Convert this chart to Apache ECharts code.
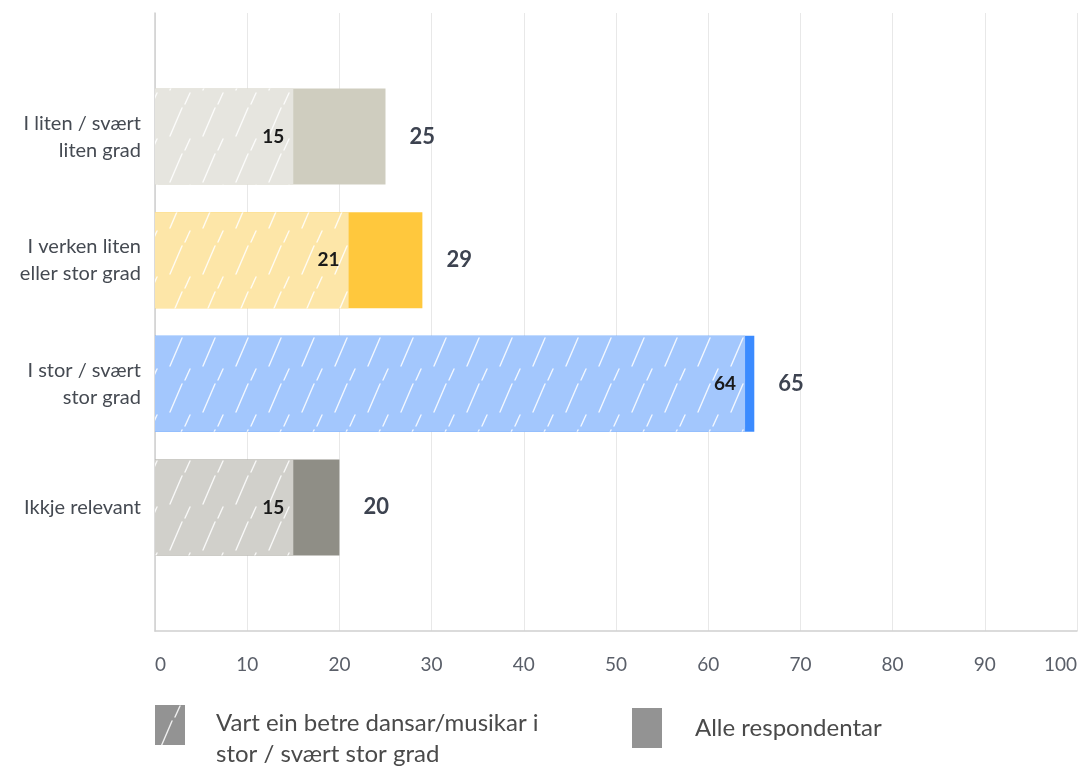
<!DOCTYPE html>
<html>
<head>
<meta charset="utf-8">
<script src="https://cdn.jsdelivr.net/npm/echarts@6/dist/echarts.min.js"></script>
<style>
  html, body { margin: 0; padding: 0; background: #fff; }
  #chart { width: 1078px; height: 767px; }
</style>
</head>
<body>
<div id="chart"></div>
<script>
// kategoriar (tom start/slutt for luft over og under)
const categories = ['', 'I liten / svært\nliten grad', 'I verken liten\neller stor grad', 'I stor / svært\nstor grad', 'Ikkje relevant', ''];
const betreVerdiar = [null, 15, 21, 64, 15, null];
const alleVerdiar = [null, 25, 29, 65, 20, null];
const seriesNames = ['Vart ein betre dansar/musikar i stor / svært stor grad', 'Alle respondentar'];

// fargar per rad: [lys (skravert), mørk]
const rowColors = [
    null,
    ['#e6e5df', '#cfcdbf'],
    ['#fde6a8', '#ffc83d'],
    ['#a3c7fd', '#3b8bff'],
    ['#d1d0cb', '#8f8e86'],
    null
];

// skravert mønster med kvite strekar
function hatch(bg) {
    const c = document.createElement('canvas');
    c.width = 33;
    c.height = 46;
    const ctx = c.getContext('2d');
    ctx.fillStyle = bg;
    ctx.fillRect(0, 0, c.width, c.height);
    ctx.strokeStyle = 'rgba(255,255,255,0.85)';
    ctx.lineWidth = 1.4;
    ctx.lineCap = 'round';
    ctx.beginPath();
    ctx.moveTo(5, 44);
    ctx.lineTo(17, 16);
    ctx.moveTo(20, 12);
    ctx.lineTo(25, 1);
    ctx.stroke();
    return { image: c, repeat: 'repeat' };
}

const chart = echarts.init(document.getElementById('chart'));

const option = {
    textStyle: { fontFamily: 'Lato' },
    grid: { left: 155, right: 1, top: 13, bottom: 136, outerBoundsMode: 'none' },
    xAxis: {
        type: 'value',
        min: 0,
        max: 100,
        interval: 10,
        axisLine: { show: true, lineStyle: { color: '#cfcfcf', width: 1.5 } },
        axisTick: { show: false },
        axisLabel: { color: '#5a5f69', fontSize: 19, margin: 24, fontFamily: 'Lato', alignMinLabel: 'left', alignMaxLabel: 'right' },
        splitLine: { show: true, lineStyle: { color: '#e8e8e8' } }
    },
    yAxis: {
        type: 'category',
        data: categories,
        inverse: true,
        boundaryGap: false,
        axisLine: { show: true, lineStyle: { color: '#cfcfcf', width: 1.5 } },
        axisTick: { show: false },
        splitLine: { show: false },
        axisLabel: { color: '#454a52', fontSize: 20, lineHeight: 27, margin: 14, align: 'right', fontFamily: 'Lato' }
    },
    legend: [
        {
            left: 155,
            top: 689,
            padding: 0,
            itemWidth: 30,
            itemHeight: 40,
            selectedMode: false,
            formatter: () => '{s| }\n{a|Vart ein betre dansar/musikar i}\n{a|stor / svært stor grad}',
            textStyle: {
                color: '#4a4a4a',
                fontFamily: 'Lato',
                padding: [0, 0, 0, 26],
                rich: {
                    s: { fontSize: 10, lineHeight: 28 },
                    a: { fontSize: 24, lineHeight: 31, color: '#4a4a4a', fontFamily: 'Lato' }
                }
            },
            data: [{ name: seriesNames[0], icon: 'rect', itemStyle: { color: hatch('#939393') } }]
        },
        {
            left: 632,
            top: 708,
            padding: 0,
            itemWidth: 30,
            itemHeight: 40,
            selectedMode: false,
            textStyle: { color: '#4a4a4a', fontSize: 24, fontFamily: 'Lato', padding: [0, 0, 0, 28] },
            data: [{ name: seriesNames[1], icon: 'rect', itemStyle: { color: '#939393' } }]
        }
    ],
    series: [
        {
            name: seriesNames[0],
            type: 'bar',
            barWidth: 96,
            barGap: '-100%',
            z: 3,
            itemStyle: { color: hatch('#939393') },
            data: betreVerdiar.map((v, i) => v == null ? null : { value: v, itemStyle: { color: hatch(rowColors[i][0]) } }),
            label: {
                show: true,
                position: 'insideRight',
                distance: 9,
                color: '#1a1a1a',
                fontWeight: 'bold',
                fontSize: 19,
                fontFamily: 'Lato'
            }
        },
        {
            name: seriesNames[1],
            type: 'bar',
            barWidth: 96,
            z: 2,
            itemStyle: { color: '#939393' },
            data: alleVerdiar.map((v, i) => v == null ? null : { value: v, itemStyle: { color: rowColors[i][1] } }),
            label: {
                show: true,
                position: 'right',
                distance: 24,
                color: '#3d4350',
                fontWeight: 'bold',
                fontSize: 22,
                fontFamily: 'Lato'
            }
        }
    ]
};

chart.setOption(option);
</script>
</body>
</html>
